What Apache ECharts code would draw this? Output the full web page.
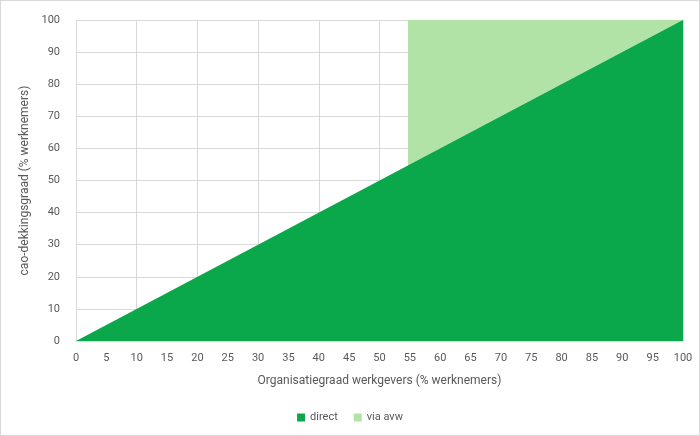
<!DOCTYPE html>
<html>
<head>
<meta charset="utf-8">
<script src="https://cdn.jsdelivr.net/npm/echarts@6/dist/echarts.min.js"></script>
<style>
  html, body { margin: 0; padding: 0; background: #fff; }
  #chart { width: 700px; height: 436px; box-sizing: border-box; border: 1px solid #d9d9d9; }
</style>
</head>
<body>
<div id="chart"></div>
<script>
// x = organisatiegraad, y = cao-dekkingsgraad
const directX = [0, 100];
const directY = [0, 100];
const avwX = [54.7, 100];
const avwY = [100, 100];

const seriesNames = ['direct', 'via avw'];
const colors = ['#0aa84a', '#b2e3a6'];

const chart = echarts.init(document.getElementById('chart'), null, { renderer: 'canvas' });

const labelStyle = { color: '#595959', fontSize: 11, fontFamily: 'Roboto' };

chart.setOption({
  animation: false,
  grid: { left: 75, right: 16, top: 19, bottom: 94 },
  legend: {
    bottom: 7,
    left: 'center',
    itemWidth: 8,
    itemHeight: 8,
    itemGap: 16,
    icon: 'rect',
    textStyle: { color: '#595959', fontSize: 11, fontFamily: 'Roboto' },
    data: seriesNames
  },
  xAxis: [{
    type: 'value',
    min: 0, max: 100, interval: 5,
    name: 'Organisatiegraad werkgevers (% werknemers)',
    nameLocation: 'middle',
    nameGap: 34,
    nameTextStyle: { color: '#595959', fontSize: 12, fontFamily: 'Roboto' },
    axisLine: { show: false },
    axisTick: { show: false },
    axisLabel: Object.assign({ margin: 12 }, labelStyle),
    splitLine: { show: false }
  }, {
    type: 'value',
    min: 0, max: 100, interval: 10,
    position: 'bottom',
    axisLine: { show: false },
    axisTick: { show: false },
    axisLabel: { show: false },
    splitLine: { show: true, lineStyle: { color: '#d9d9d9', width: 1 } }
  }],
  yAxis: {
    type: 'value',
    min: 0, max: 100, interval: 10,
    name: 'cao-dekkingsgraad (% werknemers)',
    nameLocation: 'middle',
    nameGap: 40,
    nameTextStyle: { color: '#595959', fontSize: 12, fontFamily: 'Roboto' },
    axisLine: { show: false },
    axisTick: { show: false },
    axisLabel: Object.assign({ margin: 16 }, labelStyle),
    splitLine: { show: true, lineStyle: { color: '#d9d9d9', width: 1 } }
  },
  series: [{
    name: 'direct',
    type: 'line',
    z: 3,
    symbol: 'none',
    color: colors[0],
    lineStyle: { width: 0 },
    areaStyle: { color: colors[0], opacity: 1 },
    data: directX.map((x, i) => [x, directY[i]])
  }, {
    name: 'via avw',
    type: 'line',
    z: 2,
    symbol: 'none',
    color: colors[1],
    lineStyle: { width: 0 },
    areaStyle: { color: colors[1], opacity: 1 },
    data: avwX.map((x, i) => [x, avwY[i]])
  }]
});
</script>
</body>
</html>
